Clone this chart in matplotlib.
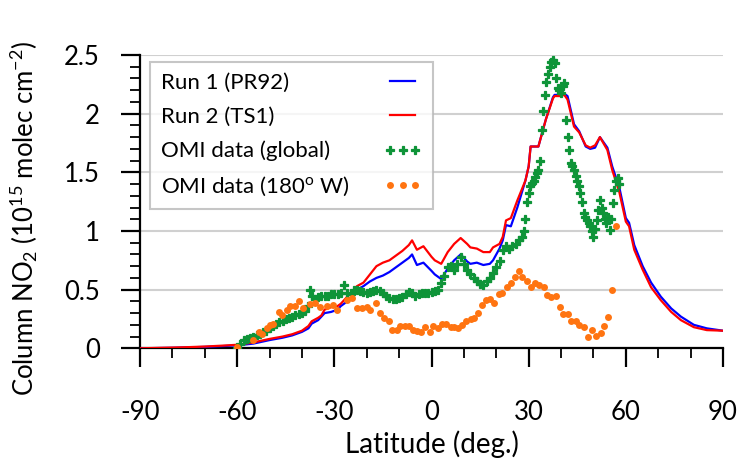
import matplotlib
matplotlib.use("Agg")
import matplotlib.pyplot as plt
import numpy as np
from matplotlib.ticker import MultipleLocator

plt.rcParams['font.family'] = ['Lato', 'DejaVu Sans']
plt.rcParams['mathtext.fontset'] = 'custom'
plt.rcParams['mathtext.rm'] = 'Lato'
plt.rcParams['mathtext.it'] = 'Lato'
plt.rcParams['mathtext.bf'] = 'Lato:bold'
plt.rcParams['axes.unicode_minus'] = False

# ---------------- data ----------------
run_lat = [-90, -85, -80, -75, -70, -65, -60, -55, -50, -46, -43, -40, -38, -37, -35, -34, -33,
           -31, -29, -28, -26, -24, -23, -21, -19, -17, -15, -13, -11, -9, -7, -6, -4.5, -2.5,
           0, 1, 3, 5, 7, 9, 11, 12, 14, 16, 18, 19, 21, 22, 23, 24.5, 26.5, 29, 30, 30.6, 33,
           35.3, 37.5, 38, 39.5, 41, 42, 44, 45.6, 47.6, 49, 50.5, 52, 54.3, 55.8, 58, 60, 61,
           62.6, 65.2, 67.8, 70.8, 74, 77, 81, 85, 90]
run1 = [0.0, 0.002, 0.004, 0.008, 0.012, 0.018, 0.025, 0.04, 0.07, 0.09, 0.11, 0.14, 0.17, 0.21,
        0.24, 0.27, 0.30, 0.31, 0.33, 0.36, 0.40, 0.46, 0.50, 0.53, 0.57, 0.60, 0.62, 0.65, 0.69,
        0.73, 0.77, 0.80, 0.71, 0.73, 0.66, 0.63, 0.59, 0.68, 0.75, 0.80, 0.74, 0.72, 0.73, 0.71,
        0.72, 0.75, 0.85, 0.92, 1.05, 1.04, 1.20, 1.43, 1.55, 1.72, 1.72, 1.95, 2.14, 2.16, 2.16,
        2.17, 2.15, 1.91, 1.85, 1.72, 1.70, 1.71, 1.80, 1.71, 1.55, 1.37, 1.11, 1.07, 0.88, 0.70,
        0.56, 0.44, 0.34, 0.27, 0.20, 0.17, 0.15]
run2 = [0.0, 0.003, 0.006, 0.01, 0.015, 0.022, 0.03, 0.05, 0.08, 0.10, 0.12, 0.15, 0.19, 0.23,
        0.26, 0.28, 0.33, 0.35, 0.36, 0.38, 0.44, 0.50, 0.53, 0.56, 0.63, 0.70, 0.73, 0.75, 0.79,
        0.83, 0.88, 0.92, 0.84, 0.87, 0.78, 0.75, 0.72, 0.82, 0.89, 0.94, 0.89, 0.86, 0.85, 0.82,
        0.82, 0.86, 0.89, 0.95, 1.09, 1.11, 1.26, 1.43, 1.55, 1.72, 1.72, 1.95, 2.13, 2.15, 2.15,
        2.16, 2.12, 1.89, 1.84, 1.73, 1.71, 1.73, 1.80, 1.69, 1.52, 1.33, 1.08, 1.04, 0.84, 0.67,
        0.52, 0.41, 0.31, 0.24, 0.18, 0.155, 0.15]

omi_global_lat = [-60, -59, -58, -57, -56, -55, -54, -53, -52, -51, -50, -49, -48, -47, -46, -45,
                  -44, -43, -42, -41, -40, -39, -38, -37.5, -37, -36, -35, -34, -33, -32, -31,
                  -30, -29, -28, -27, -26, -25, -24, -23, -22, -21, -20, -19, -18, -17, -16, -15,
                  -14, -13, -12, -11, -10, -9, -8, -7, -6, -5, -4, -3, -2, -1, 0, 1, 2, 3, 4, 5,
                  6, 7, 8, 9, 10, 11, 12, 13, 14, 15, 16, 17, 18, 19, 20, 21, 22, 23, 24, 25, 26,
                  27, 28, 28.5, 29, 29.5, 30, 30.5, 31, 31.5, 32, 32.5, 33, 33.5, 34, 34.5, 35,
                  35.5, 36, 36.5, 37, 37.5, 38, 38.5, 39, 39.5, 40, 40.5, 41, 41.5, 42, 42.5, 43,
                  43.5, 44, 44.5, 45, 45.5, 46, 46.5, 47, 47.5, 48, 48.5, 49, 49.5, 50, 50.5, 51,
                  51.5, 52, 52.5, 53, 53.5, 54, 54.5, 55, 55.5, 56, 56.5, 57, 57.5, 58]
omi_global = [0.0, 0.04, 0.07, 0.08, 0.09, 0.10, 0.11, 0.12, 0.14, 0.15, 0.17, 0.19, 0.21, 0.22,
              0.23, 0.25, 0.26, 0.27, 0.28, 0.29, 0.30, 0.32, 0.36, 0.50, 0.45, 0.42, 0.44, 0.45,
              0.45, 0.45, 0.46, 0.46, 0.46, 0.47, 0.54, 0.47, 0.46, 0.50, 0.50, 0.49, 0.48, 0.47,
              0.48, 0.49, 0.50, 0.49, 0.47, 0.45, 0.43, 0.42, 0.42, 0.43, 0.44, 0.46, 0.48, 0.47,
              0.45, 0.46, 0.47, 0.47, 0.47, 0.48, 0.49, 0.50, 0.56, 0.62, 0.69, 0.70, 0.67, 0.72,
              0.78, 0.72, 0.67, 0.63, 0.60, 0.57, 0.55, 0.54, 0.57, 0.60, 0.64, 0.69, 0.74, 0.84,
              0.87, 0.85, 0.87, 0.89, 0.92, 0.95, 1.00, 1.10, 1.25, 1.32, 1.38, 1.41, 1.43, 1.46,
              1.49, 1.52, 1.60, 1.86, 2.02, 2.16, 2.27, 2.34, 2.40, 2.44, 2.46, 2.43, 2.30, 2.22,
              2.20, 2.18, 2.24, 2.26, 1.95, 1.80, 1.69, 1.58, 1.55, 1.52, 1.47, 1.43, 1.38, 1.32,
              1.25, 1.15, 1.12, 1.09, 1.07, 1.04, 1.00, 0.95, 1.02, 1.09, 1.18, 1.26, 1.20, 1.15,
              1.10, 1.07, 1.12, 1.01, 1.10, 1.24, 1.35, 1.43, 1.45, 1.40]

omi_180w_lat = [-60.1, -55, -53.4, -52.2, -50.8, -49.8, -48.8, -47.2, -46.2, -44.6, -43.6, -42.1,
                -41, -39.7, -37.4, -35.9, -34.3, -32.3, -30.5, -29.2, -26.1, -24.5, -23, -21.4,
                -19.9, -18.9, -17, -15.8, -14.7, -13.2, -12.2, -10.8, -9.6, -8.1, -7, -5.7, -4.4,
                -3.1, -1.9, -0.6, 0.5, 1.9, 3.3, 4.6, 5.9, 6.9, 8.1, 9.5, 10.5, 12.1, 13.1, 14.3,
                15.7, 16.7, 18.2, 19.3, 20.8, 21.9, 23.2, 24.4, 25.7, 27, 28, 29.4, 30.6, 32,
                33.2, 34.6, 35.8, 37, 38.4, 39.7, 40.7, 42, 43.2, 44.5, 45.6, 47.1, 48.2, 49.7,
                50.9, 52.3, 53.3, 54.5, 55.7, 57.1]
omi_180w = [0.01, 0.07, 0.14, 0.12, 0.17, 0.20, 0.21, 0.31, 0.28, 0.33, 0.36, 0.36, 0.40, 0.34,
            0.38, 0.39, 0.35, 0.36, 0.37, 0.33, 0.41, 0.43, 0.34, 0.34, 0.35, 0.33, 0.39, 0.30,
            0.26, 0.23, 0.16, 0.16, 0.19, 0.19, 0.19, 0.16, 0.15, 0.14, 0.18, 0.14, 0.19, 0.17,
            0.21, 0.21, 0.18, 0.18, 0.17, 0.20, 0.23, 0.25, 0.26, 0.30, 0.37, 0.41, 0.42, 0.39,
            0.46, 0.47, 0.525, 0.56, 0.61, 0.66, 0.605, 0.57, 0.525, 0.555, 0.54, 0.52, 0.455,
            0.435, 0.445, 0.355, 0.29, 0.29, 0.235, 0.23, 0.20, 0.18, 0.094, 0.156, 0.105, 0.13,
            0.19, 0.27, 0.50, 1.04]

labels = ["Run 1 (PR92)", "Run 2 (TS1)", "OMI data (global)", "OMI data (180$^{\\mathrm{o}}$ W)"]
xticks = [-90, -60, -30, 0, 30, 60, 90]
yticks = [0, 0.5, 1, 1.5, 2, 2.5]
ytick_labels = ["0", "0.5", "1", "1.5", "2", "2.5"]

# ---------------- figure ----------------
fig = plt.figure(figsize=(7.43, 4.70), dpi=100)
ax = fig.add_axes([140 / 743, 1 - 348.3 / 470, 583 / 743, 293.3 / 470])

ax.set_xlim(-90, 90)
ax.set_ylim(0, 2.5)
ax.set_yticks(yticks)
ax.set_yticklabels(ytick_labels)
ax.set_xticks(xticks)
ax.xaxis.set_minor_locator(MultipleLocator(10))
ax.yaxis.set_minor_locator(MultipleLocator(0.1))

ax.grid(axis='y', which='major', color='#d0d0d0', linewidth=1.5, zorder=0)
ax.set_axisbelow(True)

for s in ['top', 'right']:
    ax.spines[s].set_visible(False)
for s in ['left', 'bottom']:
    ax.spines[s].set_linewidth(1.6)
    ax.spines[s].set_color('black')

ax.tick_params(axis='x', which='major', direction='out', length=14, width=1.6,
               labelsize=18.5, pad=23)
ax.tick_params(axis='y', which='major', direction='out', length=14, width=1.6,
               labelsize=18.5, pad=15)
ax.tick_params(axis='both', which='minor', direction='out', length=7, width=1.3)

l1, = ax.plot(run_lat, run1, color='#0000ff', linewidth=1.6, zorder=3)
l2, = ax.plot(run_lat, run2, color='#ff0000', linewidth=1.6, zorder=4)
l3, = ax.plot(omi_global_lat, omi_global, linestyle='none', marker='P', markersize=5.5,
              color='#0e9438', markeredgewidth=0.9, zorder=5)
l4, = ax.plot(omi_180w_lat, omi_180w, linestyle='none', marker='o', markersize=5,
              color='#ff7411', markeredgewidth=0, zorder=5)

ax.set_xlabel("Latitude (deg.)", fontsize=20, labelpad=4)
ax.set_ylabel("Column NO$_2$ (10$^{15}$ molec cm$^{-2}$)", fontsize=18.5)
ax.yaxis.set_label_coords((40 - 140) / 583, (348.3 - 218) / 293.3)

leg = ax.legend([l1, l2, l3, l4], labels, loc='upper left', bbox_to_anchor=(0.017, 0.976),
                borderaxespad=0, markerfirst=False, numpoints=3, fontsize=16,
                handlelength=1.75, handletextpad=1.0, labelspacing=0.62, frameon=True,
                fancybox=False, borderpad=0.5)
leg.get_frame().set_edgecolor('#b8b8b8')
leg.get_frame().set_linewidth(1.5)
# left-align label texts, keep handles flush right
for col in leg._legend_handle_box.get_children():
    for row in col.get_children():
        row.mode = 'expand'
        row.width = 261

fig.savefig("out.png", dpi=100)
